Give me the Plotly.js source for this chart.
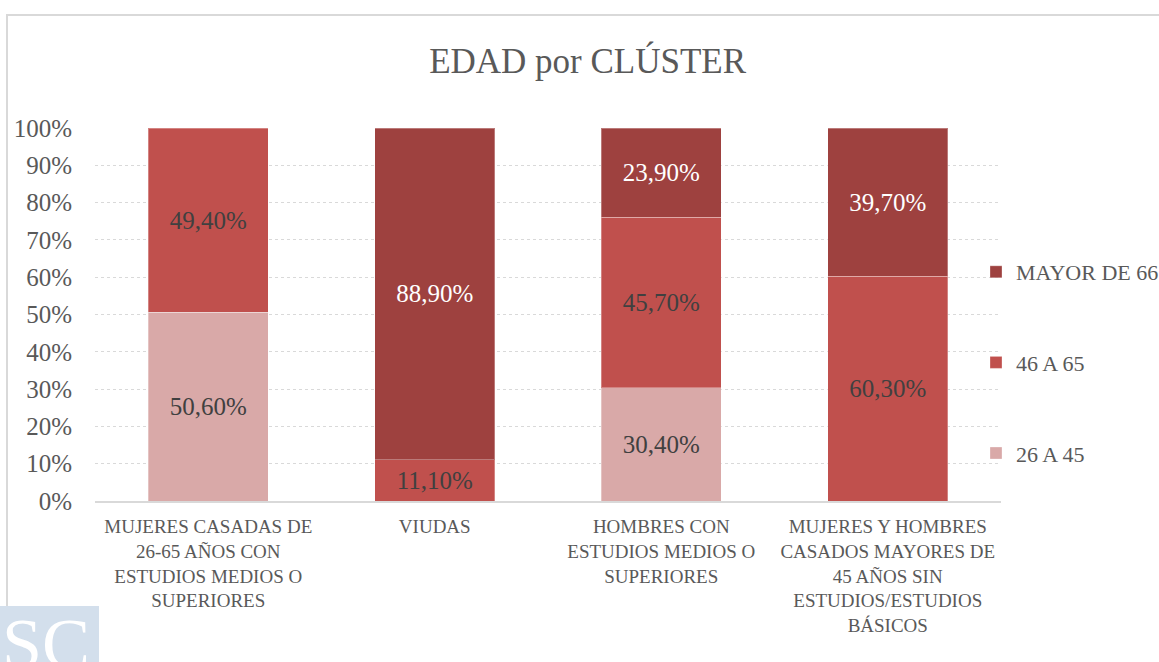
<!DOCTYPE html>
<html>
<head>
<meta charset="utf-8">
<script src="https://cdn.plot.ly/plotly-3.0.1.min.js"></script>
<style>
  html, body { margin: 0; padding: 0; background: #fff; }
  #wrap { position: relative; width: 1159px; height: 662px; overflow: hidden; }
  #chart { position: absolute; left: 0; top: 0; width: 1159px; height: 662px; }
  #frame { position: absolute; left: 6px; top: 14px; width: 1200px; height: 700px;
           border-left: 2px solid #D9D9D9; border-top: 2px solid #D9D9D9; pointer-events: none; }
  #logo { position: absolute; left: 0; top: 606px; width: 99px; height: 60px; background: #D3DFEC;
          color: #fff; font-family: 'Liberation Serif', serif; font-size: 72px; line-height: 1;
          overflow: hidden; pointer-events: none; }
  #logo span { position: absolute; left: 2px; top: 2px; letter-spacing: 0px; }
</style>
</head>
<body>
<div id="wrap">
  <div id="chart"></div>
  <div id="frame"></div>
  <div id="logo"><span>SC</span></div>
</div>
<script>
const categories = [
  'MUJERES CASADAS DE<br>26-65 AÑOS CON<br>ESTUDIOS MEDIOS O<br>SUPERIORES',
  'VIUDAS',
  'HOMBRES CON<br>ESTUDIOS MEDIOS O<br>SUPERIORES',
  'MUJERES Y HOMBRES<br>CASADOS MAYORES DE<br>45 AÑOS SIN<br>ESTUDIOS/ESTUDIOS<br>BÁSICOS'
];
const seriesNames = ['26 A 45', '46 A 65', 'MAYOR DE 66'];
const edad26a45 = [50.6, null, 30.4, null];
const edad46a65 = [49.4, 11.1, 45.7, 60.3];
const mayor66 = [null, 88.9, 23.9, 39.7];
const yTicks = [0, 10, 20, 30, 40, 50, 60, 70, 80, 90, 100];

const colors = ['#D9A9A8', '#C0504D', '#9E413F'];
const labelColors = ['#404040', '#404040', '#FFFFFF'];
const serif = "'Liberation Serif', 'DejaVu Serif', serif";

function fmt(v) { return v == null ? '' : v.toFixed(2).replace('.', ',') + '%'; }

const seriesValues = [edad26a45, edad46a65, mayor66];
const traces = seriesValues.map((vals, i) => ({
  type: 'bar',
  name: seriesNames[i],
  x: categories,
  y: vals,
  text: vals.map(fmt),
  textposition: 'inside',
  insidetextanchor: 'middle',
  textangle: 0,
  constraintext: 'none',
  textfont: { family: serif, size: 25, color: labelColors[i] },
  marker: { color: colors[i], line: { color: 'rgba(255,255,255,0.3)', width: 1 } },
  legendgroup: 'g' + i,
  legendrank: 3 - i,
  hoverinfo: 'skip'
}));

const layout = {
  width: 1159, height: 662,
  paper_bgcolor: 'rgba(0,0,0,0)', plot_bgcolor: 'rgba(0,0,0,0)',
  margin: { l: 95, r: 158, t: 128, b: 161, autoexpand: false },
  barmode: 'stack',
  bargap: 0.47,
  title: {
    text: 'EDAD por CLÚSTER',
    font: { family: serif, size: 35, color: '#595959' },
    x: 0.507, xref: 'container', xanchor: 'center',
    y: 1 - 61 / 662, yref: 'container', yanchor: 'middle'
  },
  xaxis: {
    type: 'category',
    showgrid: false,
    showline: true, linecolor: '#D9D9D9', linewidth: 1.5,
    ticks: '',
    tickfont: { family: serif, size: 19, color: '#595959' },
    ticklabelstandoff: 8,
    fixedrange: true
  },
  yaxis: {
    range: [0, 100],
    tickvals: yTicks,
    ticktext: yTicks.map(t => t + '%'),
    showgrid: true, gridcolor: '#D9D9D9', griddash: 'dot', gridwidth: 1,
    zeroline: false,
    ticks: '',
    tickfont: { family: serif, size: 25, color: '#595959' },
    ticklabelstandoff: 22,
    fixedrange: true
  },
  showlegend: true,
  legend: {
    traceorder: 'grouped',
    tracegroupgap: 59,
    font: { family: serif, size: 22, color: '#595959' },
    x: 976 / 1159, xref: 'container', xanchor: 'left',
    y: 1 - 251 / 662, yref: 'container', yanchor: 'top',
    bgcolor: 'rgba(0,0,0,0)'
  }
};

Plotly.newPlot('chart', traces, layout, { displayModeBar: false, staticPlot: true });
</script>
</body>
</html>
